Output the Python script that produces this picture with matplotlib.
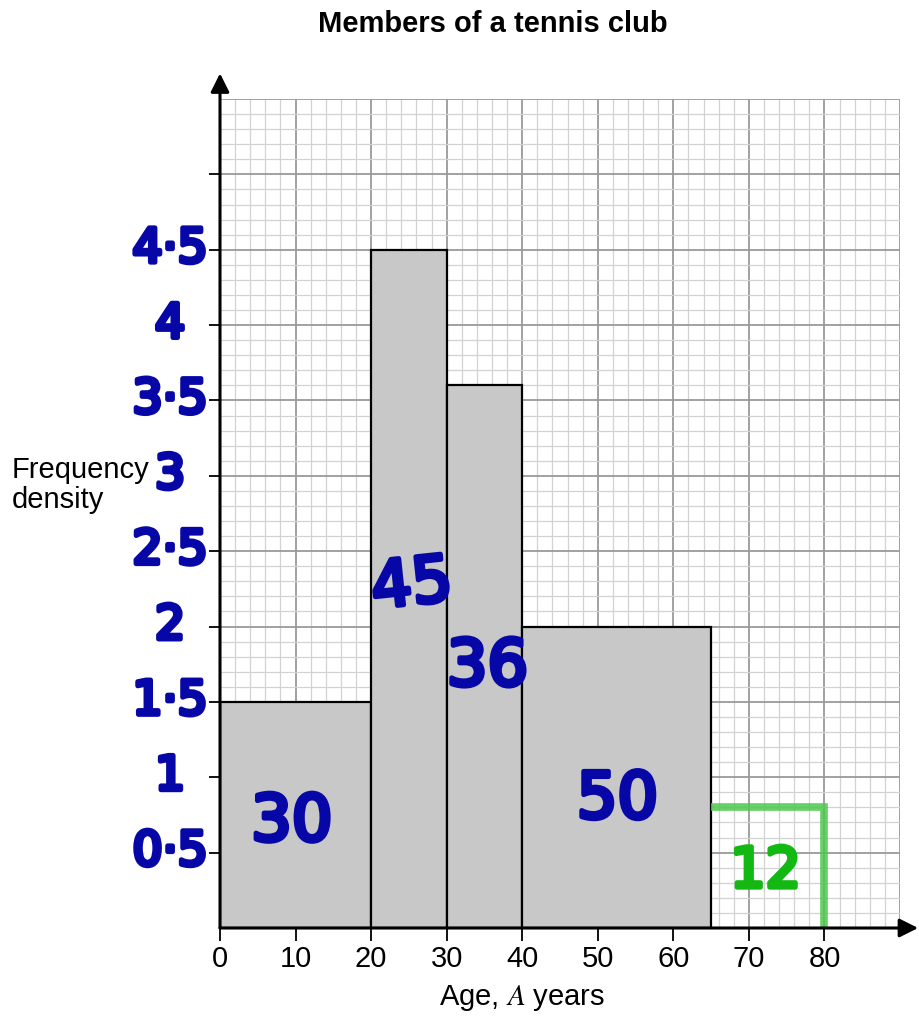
import matplotlib
matplotlib.use("Agg")
import matplotlib.pyplot as plt
import matplotlib.patheffects as pe
import numpy as np

plt.rcParams['font.family'] = ['Liberation Sans', 'DejaVu Sans']
plt.rcParams['mathtext.fontset'] = 'stix'

# Class boundaries (age, years) and frequency densities
bin_edges = [0, 20, 30, 40, 65]
densities = [1.5, 4.5, 3.6, 2.0]
frequencies = [30, 45, 36, 50]

# Last class, sketched in by hand
extra_edges = [65, 80]
extra_density = 0.8
extra_frequency = 12

x_ticks = [0, 10, 20, 30, 40, 50, 60, 70, 80]
y_hand_ticks = [0.5, 1.0, 1.5, 2.0, 2.5, 3.0, 3.5, 4.0, 4.5]
y_hand_labels = ['0·5', '1', '1·5', '2', '2·5', '3', '3·5', '4', '4·5']

XMAX, YMAX = 90, 5.5
BLUE = '#0707a8'
GREEN = '#13b813'

fig = plt.figure(figsize=(9.19, 10.17), dpi=100)
ax = fig.add_axes([220 / 919, 1 - 928 / 1017, 680 / 919, 829 / 1017])
ax.set_xlim(0, XMAX)
ax.set_ylim(0, YMAX)

# Graph-paper grid
for x in np.arange(0, XMAX + 0.01, 2):
    major = abs(x % 10) < 1e-9
    ax.axvline(x, color='#9a9a9a' if major else '#d2d2d2',
               lw=1.3 if major else 0.9, zorder=0)
for y in np.arange(0, YMAX + 0.001, 0.1):
    major = abs((y / 0.5) - round(y / 0.5)) < 1e-6
    ax.axhline(y, color='#9a9a9a' if major else '#d2d2d2',
               lw=1.3 if major else 0.9, zorder=0)

# Histogram bars
widths = np.diff(bin_edges)
ax.bar(bin_edges[:-1], densities, width=widths, align='edge',
       color='#c8c8c8', edgecolor='black', linewidth=1.6, zorder=2)

# Hand-drawn final bar outline
ax.plot([extra_edges[0], extra_edges[1], extra_edges[1]],
        [extra_density, extra_density, 0],
        color='#4cc84c', alpha=0.85, lw=5.5, solid_joinstyle='miter',
        solid_capstyle='butt', zorder=3)

# Axes lines with arrowheads
for s in ax.spines.values():
    s.set_visible(False)
arrow = dict(arrowstyle='-|>', lw=2.2, color='black', mutation_scale=28,
             shrinkA=0, shrinkB=0)
ax.annotate('', xy=(92.4, 0), xytext=(0, 0), arrowprops=arrow,
            annotation_clip=False, zorder=5)
ax.annotate('', xy=(0, 5.67), xytext=(0, 0), arrowprops=arrow,
            annotation_clip=False, zorder=5)

# Ticks
ax.set_xticks(x_ticks)
ax.set_xticklabels([str(v) for v in x_ticks], fontsize=21)
ax.set_yticks(np.arange(0.5, 5.01, 0.5))
ax.set_yticklabels([])
ax.tick_params(axis='x', direction='out', length=9, width=1.3, pad=3)
ax.tick_params(axis='y', direction='out', length=8, width=1.3)

fig.text(522 / 919, 1 - 998 / 1017, 'Age, $A$ years', fontsize=21,
         ha='center', va='center')

# Handwritten annotations
def hand(color):
    return [pe.Stroke(linewidth=3.5, foreground=color, joinstyle='round',
                      capstyle='round'), pe.Normal()]

hand_font = dict(family='DejaVu Sans')

for val, lab in zip(y_hand_ticks, y_hand_labels):
    ax.text(-6.6, val, lab, fontsize=34, color=BLUE, ha='center',
            va='center', path_effects=hand(BLUE), clip_on=False, **hand_font)

bar_label_pos = [(9.5, 0.70, 0), (25.4, 2.27, 6), (35.4, 1.73, 0),
                 (52.6, 0.85, 0)]
for (x, y, r), f in zip(bar_label_pos, frequencies):
    ax.text(x, y, str(f), fontsize=46, color=BLUE, ha='center', va='center',
            rotation=r, path_effects=hand(BLUE), zorder=4, **hand_font)

ax.text(72.2, 0.37, str(extra_frequency), fontsize=40, color=GREEN,
        ha='center', va='center', path_effects=hand(GREEN), zorder=4,
        **hand_font)

# Titles
fig.text(493 / 919, 1 - 24 / 1017, 'Members of a tennis club', fontsize=21,
         fontweight='bold', ha='center', va='center')
fig.text(12 / 919, 1 - 485 / 1017, 'Frequency\ndensity', fontsize=21,
         ha='left', va='center', linespacing=1.1)

fig.savefig('out.png', dpi=100)
